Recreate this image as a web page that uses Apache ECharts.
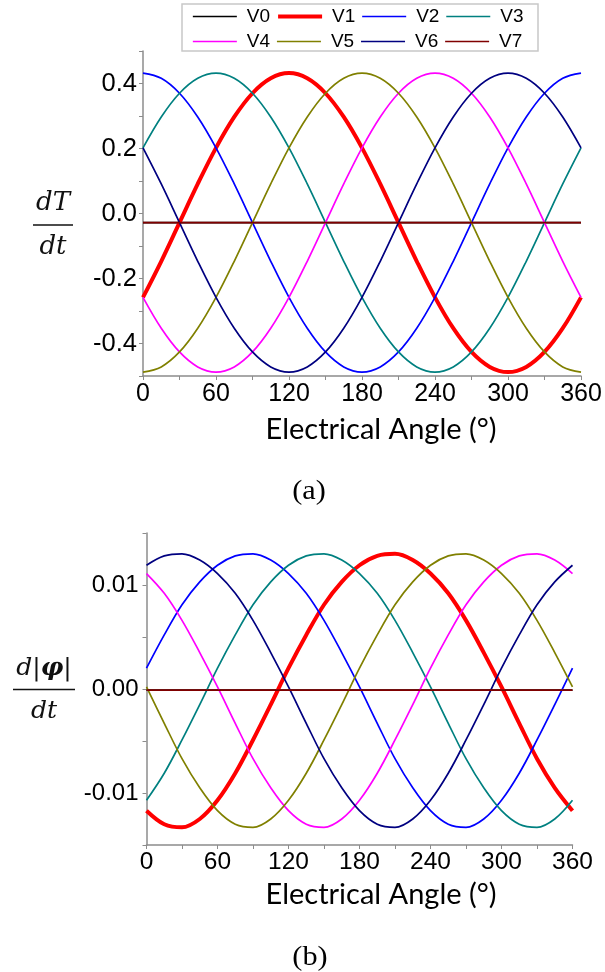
<!DOCTYPE html>
<html>
<head>
<meta charset="utf-8">
<script src="https://cdn.jsdelivr.net/npm/echarts@6/dist/echarts.min.js"></script>
<style>
  html, body { margin: 0; padding: 0; background: #fff; }
  #chart { width: 605px; height: 972px; }
</style>
</head>
<body>
<div id="chart"></div>
<script>
// Electrical angle samples (degrees)
const angles = [0, 15, 30, 45, 60, 75, 90, 105, 120, 135, 150, 165, 180, 195, 210, 225, 240, 255, 270, 285, 300, 315, 330, 345, 360];
const zeroAngles = [0, 360];

// (a) torque rate dT/dt for each voltage vector
const dTdtV0 = [-0.028, -0.028];
const dTdtV1 = [-0.258, -0.147, -0.028, 0.091, 0.202, 0.297, 0.370, 0.416, 0.432, 0.416, 0.370, 0.297, 0.202, 0.091, -0.028, -0.147, -0.258, -0.353, -0.426, -0.472, -0.488, -0.472, -0.426, -0.353, -0.258];
const dTdtV2 = [0.432, 0.416, 0.370, 0.297, 0.202, 0.091, -0.028, -0.147, -0.258, -0.353, -0.426, -0.472, -0.488, -0.472, -0.426, -0.353, -0.258, -0.147, -0.028, 0.091, 0.202, 0.297, 0.370, 0.416, 0.432];
const dTdtV3 = [0.202, 0.297, 0.370, 0.416, 0.432, 0.416, 0.370, 0.297, 0.202, 0.091, -0.028, -0.147, -0.258, -0.353, -0.426, -0.472, -0.488, -0.472, -0.426, -0.353, -0.258, -0.147, -0.028, 0.091, 0.202];
const dTdtV4 = [-0.258, -0.353, -0.426, -0.472, -0.488, -0.472, -0.426, -0.353, -0.258, -0.147, -0.028, 0.091, 0.202, 0.297, 0.370, 0.416, 0.432, 0.416, 0.370, 0.297, 0.202, 0.091, -0.028, -0.147, -0.258];
const dTdtV5 = [-0.488, -0.472, -0.426, -0.353, -0.258, -0.147, -0.028, 0.091, 0.202, 0.297, 0.370, 0.416, 0.432, 0.416, 0.370, 0.297, 0.202, 0.091, -0.028, -0.147, -0.258, -0.353, -0.426, -0.472, -0.488];
const dTdtV6 = [0.202, 0.091, -0.028, -0.147, -0.258, -0.353, -0.426, -0.472, -0.488, -0.472, -0.426, -0.353, -0.258, -0.147, -0.028, 0.091, 0.202, 0.297, 0.370, 0.416, 0.432, 0.416, 0.370, 0.297, 0.202];
const dTdtV7 = [-0.028, -0.028];

// (b) flux magnitude rate d|phi|/dt for each voltage vector
const dPhiV0 = [-0.0001, -0.0001];
const dPhiV1 = [-0.0117, -0.0130, -0.0133, -0.0125, -0.0107, -0.0081, -0.0049, -0.0015, 0.0020, 0.0052, 0.0081, 0.0103, 0.0119, 0.0128, 0.0130, 0.0124, 0.0111, 0.0092, 0.0066, 0.0035, 0.0002, -0.0033, -0.0067, -0.0095, -0.0117];
const dPhiV2 = [0.0020, 0.0052, 0.0081, 0.0103, 0.0119, 0.0128, 0.0130, 0.0124, 0.0111, 0.0092, 0.0066, 0.0035, 0.0002, -0.0033, -0.0067, -0.0095, -0.0117, -0.0130, -0.0133, -0.0125, -0.0107, -0.0081, -0.0049, -0.0015, 0.0020];
const dPhiV3 = [-0.0107, -0.0081, -0.0049, -0.0015, 0.0020, 0.0052, 0.0081, 0.0103, 0.0119, 0.0128, 0.0130, 0.0124, 0.0111, 0.0092, 0.0066, 0.0035, 0.0002, -0.0033, -0.0067, -0.0095, -0.0117, -0.0130, -0.0133, -0.0125, -0.0107];
const dPhiV4 = [0.0111, 0.0092, 0.0066, 0.0035, 0.0002, -0.0033, -0.0067, -0.0095, -0.0117, -0.0130, -0.0133, -0.0125, -0.0107, -0.0081, -0.0049, -0.0015, 0.0020, 0.0052, 0.0081, 0.0103, 0.0119, 0.0128, 0.0130, 0.0124, 0.0111];
const dPhiV5 = [0.0002, -0.0033, -0.0067, -0.0095, -0.0117, -0.0130, -0.0133, -0.0125, -0.0107, -0.0081, -0.0049, -0.0015, 0.0020, 0.0052, 0.0081, 0.0103, 0.0119, 0.0128, 0.0130, 0.0124, 0.0111, 0.0092, 0.0066, 0.0035, 0.0002];
const dPhiV6 = [0.0119, 0.0128, 0.0130, 0.0124, 0.0111, 0.0092, 0.0066, 0.0035, 0.0002, -0.0033, -0.0067, -0.0095, -0.0117, -0.0130, -0.0133, -0.0125, -0.0107, -0.0081, -0.0049, -0.0015, 0.0020, 0.0052, 0.0081, 0.0103, 0.0119];
const dPhiV7 = [-0.0001, -0.0001];

// Axis tick labels
const xTickLabels = [0, 60, 120, 180, 240, 300, 360];
const dTdtTickLabels = [-0.4, -0.2, 0.0, 0.2, 0.4];
const dPhiTickLabels = [-0.01, 0.00, 0.01];

const vectorNames = ['V0', 'V1', 'V2', 'V3', 'V4', 'V5', 'V6', 'V7'];
const vectorColors = ['#000000', '#ff0000', '#0000ff', '#008080', '#ff00ff', '#808000', '#000080', '#800000'];

const topSets = [dTdtV0, dTdtV1, dTdtV2, dTdtV3, dTdtV4, dTdtV5, dTdtV6, dTdtV7];
const bottomSets = [dPhiV0, dPhiV1, dPhiV2, dPhiV3, dPhiV4, dPhiV5, dPhiV6, dPhiV7];

function lineWidthOf(i) {
  return i === 1 ? 4 : 1.7;
}

function pairUp(values) {
  const xs = values.length === 2 ? zeroAngles : angles;
  return values.map((v, i) => [xs[i], v]);
}

function makeSeries(sets, axisIndex) {
  return sets.map((values, i) => ({
    name: vectorNames[i],
    type: 'line',
    xAxisIndex: axisIndex,
    yAxisIndex: axisIndex,
    data: pairUp(values),
    smooth: 0.35,
    symbol: 'none',
    animation: false,
    lineStyle: { color: vectorColors[i], width: lineWidthOf(i) },
    itemStyle: { color: vectorColors[i] },
    z: 2
  }));
}

const AXIS_GREY = '#8c8c8c';
const labelFont = '"Liberation Sans", Arial, sans-serif';

function near(v, list) {
  return list.some(t => Math.abs(t - v) < 1e-9);
}

function xAxisCfg(gridIndex, fontSize, margin) {
  return {
    type: 'value', gridIndex, min: 0, max: 360, interval: 30,
    axisLine: { show: true, onZero: false, lineStyle: { color: AXIS_GREY, width: 1.5 } },
    axisTick: { show: true, length: 4, lineStyle: { color: AXIS_GREY, width: 1 } },
    splitLine: { show: false },
    axisLabel: {
      color: '#000', fontFamily: labelFont, fontSize, margin,
      formatter: v => near(v, xTickLabels) ? String(v) : ''
    }
  };
}

function legendCfg(from, to, top) {
  const items = [];
  for (let i = from; i < to; i++) {
    items.push({ name: vectorNames[i], lineStyle: { width: lineWidthOf(i), color: vectorColors[i] } });
  }
  return {
    data: items, left: 187, top, itemWidth: 44, itemHeight: 14, itemGap: 6,
    itemStyle: { opacity: 0 },
    textStyle: { fontFamily: labelFont, fontSize: 19, color: '#000', padding: [0, 0, 0, 5] },
    selectedMode: false
  };
}

const mathFont = '"DejaVu Serif", serif';

const chart = echarts.init(document.getElementById('chart'), null, { renderer: 'canvas' });

const option = {
  backgroundColor: '#ffffff',
  animation: false,
  grid: [
    { left: 143, top: 51, width: 438, height: 325 },
    { left: 146.5, top: 533, width: 426, height: 312 }
  ],
  xAxis: [xAxisCfg(0, 25, 6), xAxisCfg(1, 24.5, 5)],
  yAxis: [
    {
      type: 'value', gridIndex: 0, min: -0.5, max: 0.5, interval: 0.1,
      axisLine: { show: true, onZero: false, lineStyle: { color: AXIS_GREY, width: 1.5 } },
      axisTick: { show: true, length: 4, lineStyle: { color: AXIS_GREY, width: 1 } },
      splitLine: { show: false },
      axisLabel: {
        color: '#000', fontFamily: labelFont, fontSize: 25.5, margin: 6,
        formatter: v => near(v, dTdtTickLabels) ? v.toFixed(1) : ''
      }
    },
    {
      type: 'value', gridIndex: 1, min: -0.015, max: 0.015, interval: 0.005,
      axisLine: { show: true, onZero: false, lineStyle: { color: AXIS_GREY, width: 1.5 } },
      axisTick: { show: true, length: 4, lineStyle: { color: AXIS_GREY, width: 1 } },
      splitLine: { show: false },
      axisLabel: {
        color: '#000', fontFamily: labelFont, fontSize: 24, margin: 8,
        formatter: v => near(v, dPhiTickLabels) ? v.toFixed(2) : ''
      }
    }
  ],
  legend: [legendCfg(0, 4, 2), legendCfg(4, 8, 27)],
  graphic: [
    // legend frame
    { type: 'rect', shape: { x: 182, y: 4, width: 356, height: 47 }, style: { fill: '#fff', stroke: '#c8c8c8', lineWidth: 1.5 }, z: -1, silent: true },
    // axis titles
    { type: 'text', x: 381, y: 430, style: { text: 'Electrical Angle (°)', font: '29px Lato, "Open Sans", sans-serif', fill: '#000', align: 'center', verticalAlign: 'middle' } },
    { type: 'text', x: 381, y: 895, style: { text: 'Electrical Angle (°)', font: '29px Lato, "Open Sans", sans-serif', fill: '#000', align: 'center', verticalAlign: 'middle' } },
    // panel tags
    { type: 'text', x: 309, y: 492, scaleX: 1.12, style: { text: '(a)', font: '27px "Liberation Serif", "Times New Roman", serif', fill: '#000', align: 'center', verticalAlign: 'middle' } },
    { type: 'text', x: 310, y: 958, scaleX: 1.12, style: { text: '(b)', font: '27px "Liberation Serif", "Times New Roman", serif', fill: '#000', align: 'center', verticalAlign: 'middle' } },
    // dT/dt
    { type: 'text', x: 53, y: 203, style: { text: 'dT', font: 'italic 26px ' + mathFont, fill: '#111', align: 'center', verticalAlign: 'middle' } },
    { type: 'line', shape: { x1: 33, y1: 225, x2: 73, y2: 225 }, style: { stroke: '#111', lineWidth: 1.5 } },
    { type: 'text', x: 53, y: 247, style: { text: 'dt', font: 'italic 26px ' + mathFont, fill: '#111', align: 'center', verticalAlign: 'middle' } },
    // d|phi|/dt
    {
      type: 'text', x: 44, y: 668,
      style: {
        text: '{i|d}{n||}{b|φ}{n||}', align: 'center', verticalAlign: 'middle', fill: '#111',
        rich: {
          i: { font: 'italic 25px ' + mathFont, fill: '#111' },
          n: { font: '25px ' + mathFont, fill: '#111' },
          b: { font: 'italic bold 25px ' + mathFont, fill: '#111' }
        }
      }
    },
    { type: 'line', shape: { x1: 13, y1: 689.5, x2: 75, y2: 689.5 }, style: { stroke: '#111', lineWidth: 1.5 } },
    { type: 'text', x: 44, y: 711, style: { text: 'dt', font: 'italic 25px ' + mathFont, fill: '#111', align: 'center', verticalAlign: 'middle' } }
  ],
  series: [...makeSeries(topSets, 0), ...makeSeries(bottomSets, 1)]
};

chart.setOption(option);
</script>
</body>
</html>
